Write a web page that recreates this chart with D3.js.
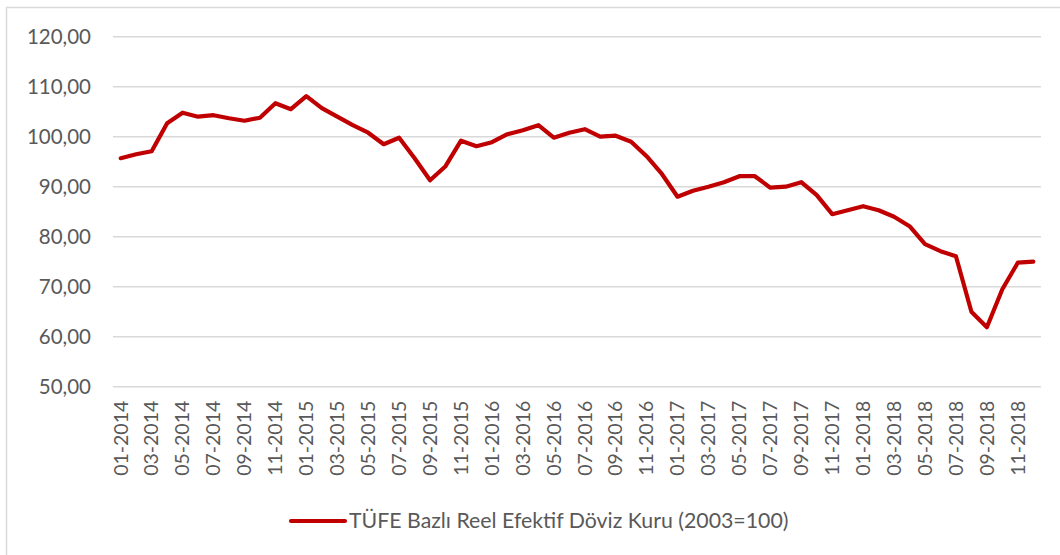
<!DOCTYPE html>
<html>
<head>
<meta charset="utf-8">
<script src="https://cdn.jsdelivr.net/npm/d3@7"></script>
<style>
  body { margin: 0; background: #fff; }
  svg { display: block; }
</style>
</head>
<body>
<svg id="chart" width="1060" height="555"></svg>
<script>
// monthly values, 01-2014 .. 12-2018
var years = [2014, 2015, 2016, 2017, 2018];
var values = [
  95.7, 96.5, 97.1, 102.7, 104.8, 104.0, 104.3, 103.7, 103.2, 103.8, 106.7, 105.5,
  108.1, 105.7, 104.0, 102.3, 100.8, 98.5, 99.8, 95.7, 91.3, 94.1, 99.2, 98.1,
  98.9, 100.5, 101.3, 102.3, 99.8, 100.8, 101.5, 100.0, 100.2, 99.0, 96.1, 92.5,
  88.0, 89.2, 90.0, 90.9, 92.1, 92.1, 89.8, 90.0, 90.9, 88.3, 84.5, 85.3,
  86.1, 85.3, 84.0, 82.1, 78.5, 77.1, 76.1, 65.0, 61.9, 69.5, 74.8, 75.0
];
var yTicks = [50, 60, 70, 80, 90, 100, 110, 120];
var seriesName = 'TÜFE Bazlı Reel Efektif Döviz Kuru (2003=100)';

// category labels MM-YYYY
var months = [];
years.forEach(function(yr){
    for(var m=1;m<=12;m++)
        months.push((m<10?'0':'')+m+'-'+yr);
});

var svg = d3.select('#chart');
var font = 'Lato, "Open Sans", sans-serif';
var textColor = '#595959';

// chart frame
svg.append('path')
    .attr('d','M 6.5 555 L 6.5 7.5 L 1060 7.5')
    .attr('stroke','#d9d9d9')
    .attr('stroke-width',1.5)
    .attr('fill','none');

var plotLeft = 113, plotRight = 1041, plotTop = 36.7, plotBottom = 386.7;

var x = d3.scaleBand()
    .domain(months)
    .range([plotLeft, plotRight]);

var y = d3.scaleLinear()
    .domain([50, 120])
    .range([plotBottom, plotTop]);

// grid lines
svg.append('g')
    .selectAll('line')
    .data(yTicks)
    .join('line')
    .attr('x1', plotLeft)
    .attr('x2', plotRight)
    .attr('y1', d => y(d))
    .attr('y2', d => y(d))
    .attr('stroke','#d9d9d9')
    .attr('stroke-width',1.5);

// y axis labels
var yAxis = d3.axisLeft(y)
    .tickValues(yTicks)
    .tickSize(0)
    .tickPadding(0)
    .tickFormat(d => d3.format('.2f')(d).replace('.', ','));

svg.append('g')
    .attr('transform','translate(91,0)')
    .call(yAxis)
    .call(g => g.select('.domain').remove())
    .selectAll('text')
    .attr('font-family', font)
    .attr('font-size','20.5px')
    .attr('fill', textColor);

// x axis labels (every second month)
var xAxis = d3.axisBottom(x)
    .tickValues(months.filter((d,i) => i%2==0))
    .tickSize(0)
    .tickPadding(0);

svg.append('g')
    .attr('transform',`translate(0,${plotBottom})`)
    .call(xAxis)
    .call(g => g.select('.domain').remove())
    .selectAll('text')
    .attr('font-family', font)
    .attr('font-size','19.5px')
    .attr('fill', textColor)
    .attr('text-anchor','end')
    .attr('y',0)
    .attr('dy','0.35em')
    .attr('transform','translate(0,14) rotate(-90)');

// the series line
var line = d3.line()
    .x((d,i) => x(months[i]) + x.bandwidth()/2)
    .y(d => y(d));

svg.append('path')
    .datum(values)
    .attr('d', line)
    .attr('stroke','#c00000')
    .attr('stroke-width',4.2)
    .attr('stroke-linejoin','round')
    .attr('stroke-linecap','round')
    .attr('fill','none');

// legend
var lg = svg.append('g').attr('transform','translate(291,521)');
lg.append('line')
    .attr('x1',0).attr('x2',54)
    .attr('y1',0).attr('y2',0)
    .attr('stroke','#c00000')
    .attr('stroke-width',4.2)
    .attr('stroke-linecap','round');
lg.append('text')
    .attr('x',58)
    .attr('y',0)
    .attr('dy','0.35em')
    .attr('font-family', font)
    .attr('font-size','21.3px')
    .attr('fill', textColor)
    .text(seriesName);
</script>
</body>
</html>
